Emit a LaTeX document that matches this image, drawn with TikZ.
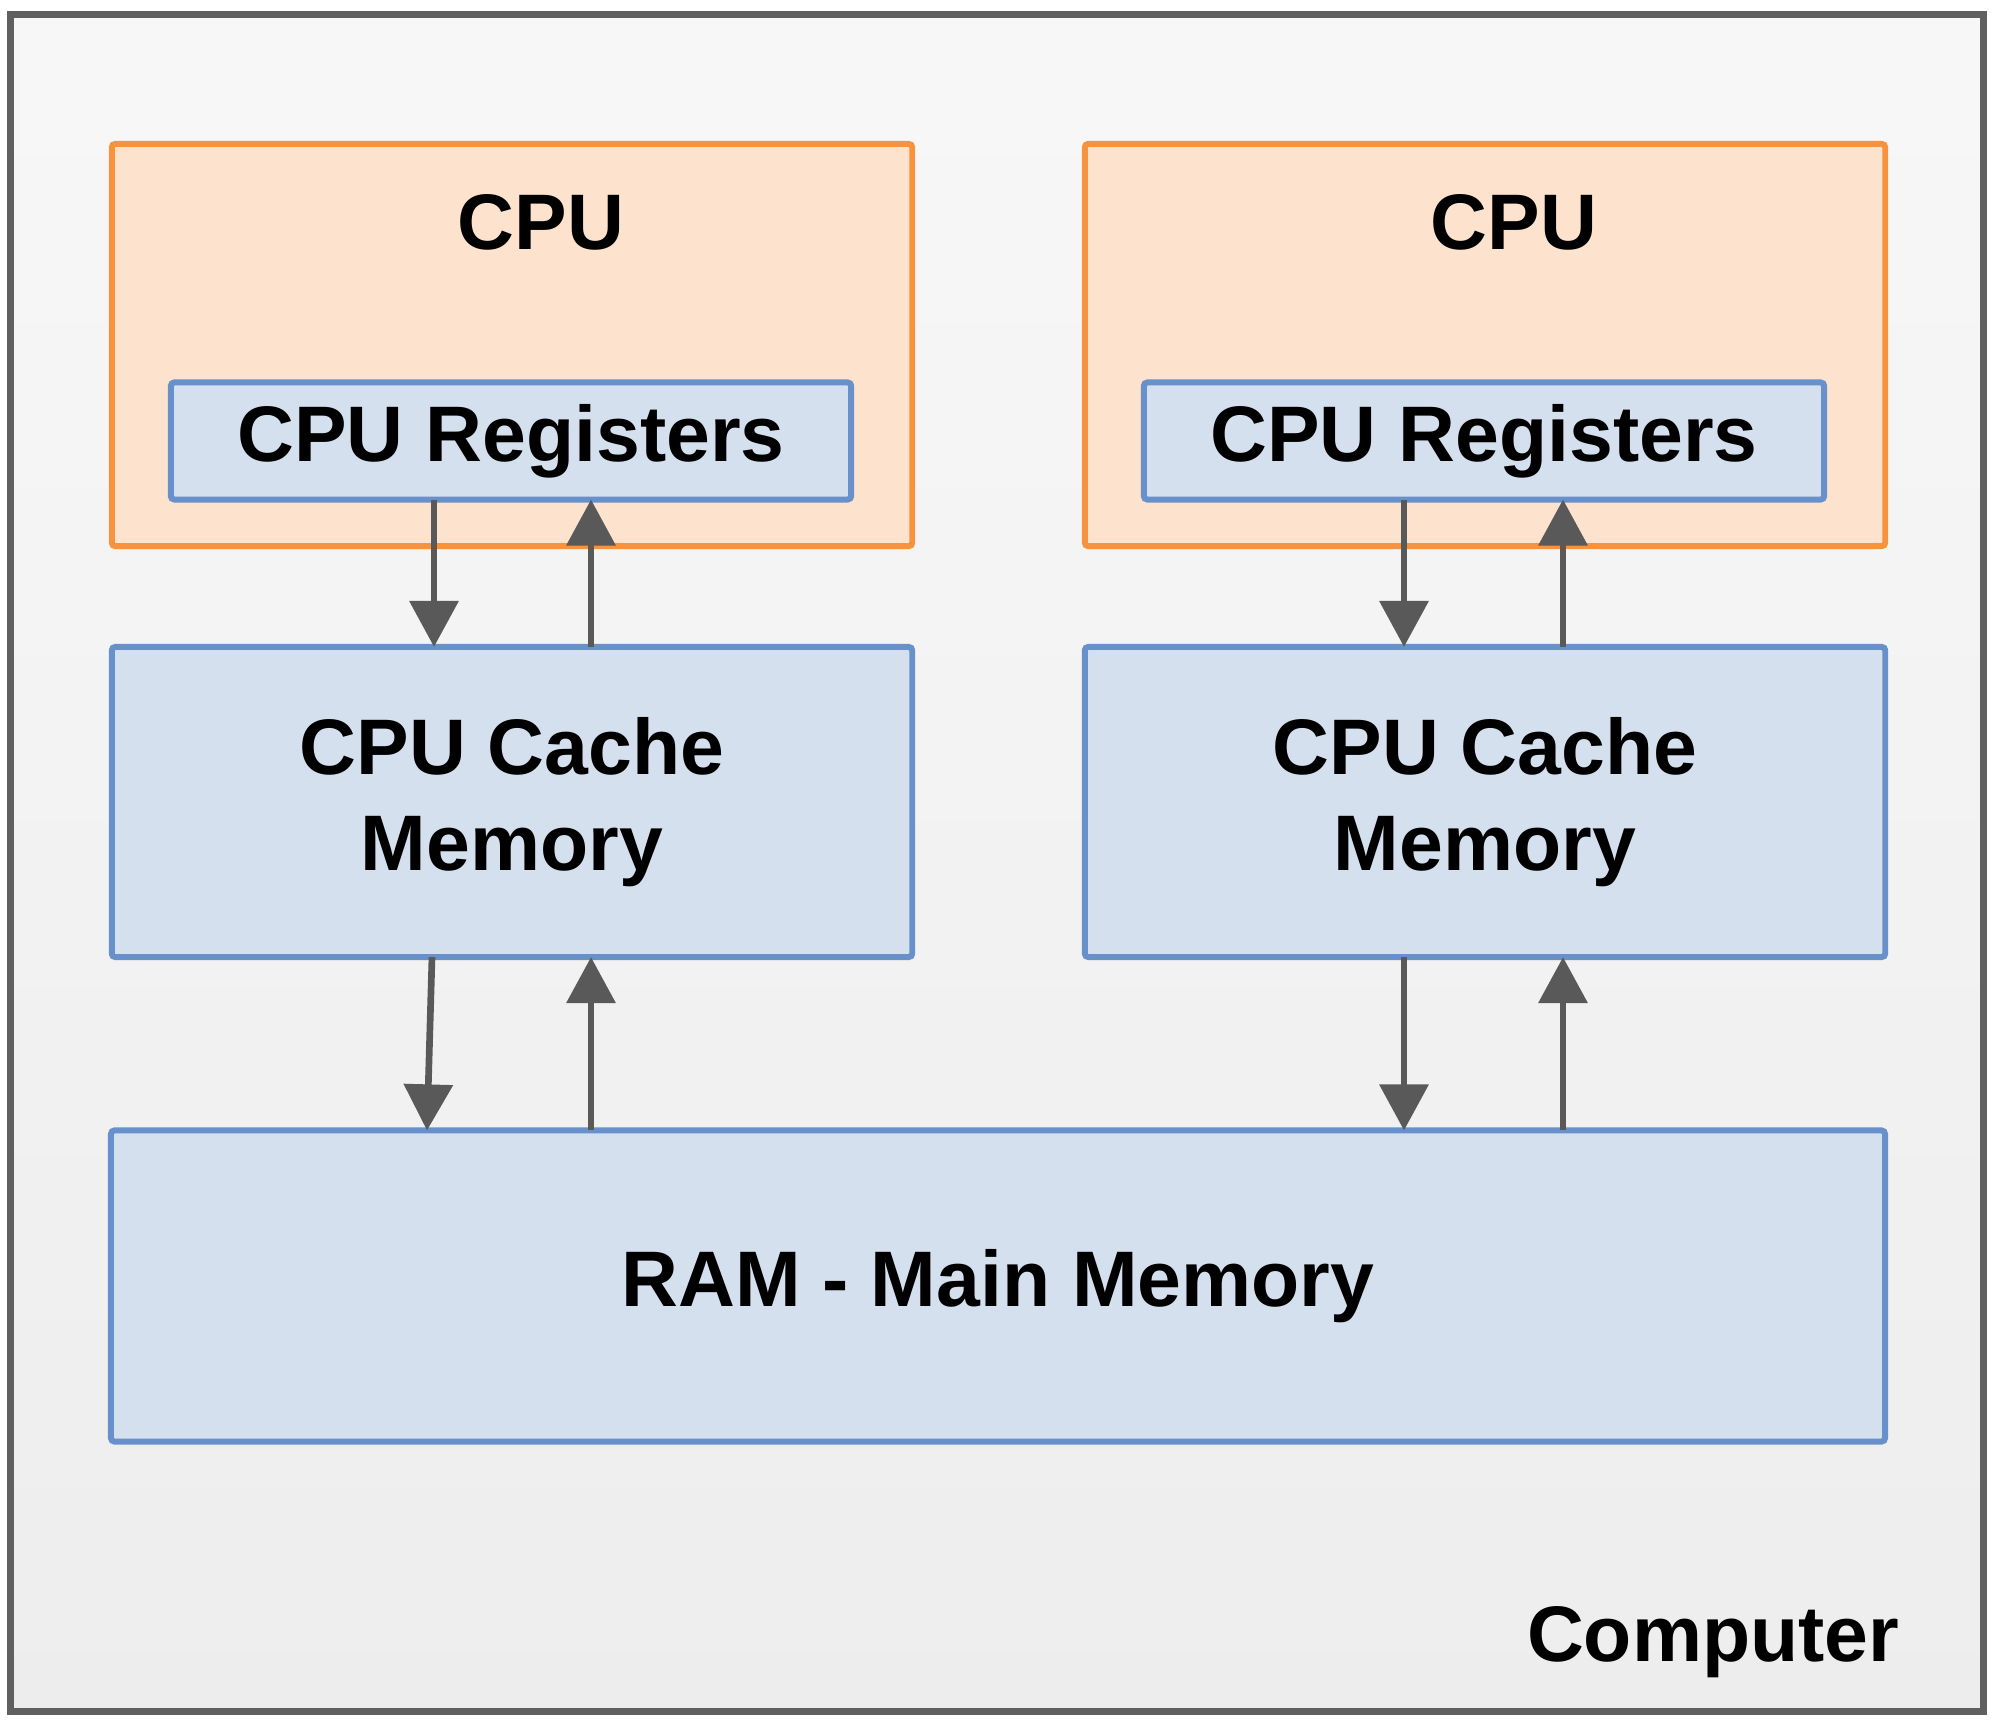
\documentclass[tikz,border=0pt]{standalone}
\usepackage{fontspec}
\setmainfont{Liberation Sans}
\usepackage{tikz}
\usetikzlibrary{%
  calc,%
  arrows.meta%
}
\definecolor{cpuline}{HTML}{F7923E}
\definecolor{cpufill}{HTML}{FDE3CE}
\definecolor{memline}{HTML}{6890CA}
\definecolor{memfill}{HTML}{D5E0EE}
\definecolor{wire}{HTML}{595959}
\definecolor{frameline}{HTML}{606060}

\begin{document}
\begin{tikzpicture}[x=0.01cm, y=-0.01cm,
  every node/.style={font=\bfseries\fontsize{22.4}{27.3}\selectfont, inner sep=0pt, outer sep=0pt},
  pcbox/.style={draw=frameline, line width=2pt, top color=white!97!black, bottom color=white!93!black, minimum width=19.72cm, minimum height=16.96cm},
  cpubox/.style={draw=cpuline, fill=cpufill, line width=1.7pt, rounded corners=1pt, minimum width=8cm, minimum height=4.02cm},
  membox/.style={draw=memline, fill=memfill, line width=1.7pt, rounded corners=1pt, align=center},
  link/.style={-{Triangle[width=0.48cm,length=0.46cm]}, draw=wire, line width=1.9pt}]
\useasboundingbox (0,0) rectangle (2000,1731);

\node[pcbox] (PC) at (997,863) {};
\node[anchor=base east] (PCt) at (1899,1661) {Computer};

\node[cpubox] (CPU1) at (512,345) {};
\node[cpubox] (CPU2) at (1485,345) {};
\node (CPUt1) at (541,222) {CPU};
\node (CPUt2) at (1514,222) {CPU};

\node[membox, minimum width=6.8cm, minimum height=1.17cm] (Reg1) at (511,441) {CPU Registers};
\node[membox, minimum width=6.8cm, minimum height=1.17cm] (Reg2) at (1484,441) {CPU Registers};

\node[membox, minimum width=8cm, minimum height=3.1cm] (Cache1) at (512,802) {CPU Cache\\Memory};
\node[membox, minimum width=8cm, minimum height=3.1cm] (Cache2) at (1485,802) {CPU Cache\\Memory};

\node[membox, minimum width=17.73cm, minimum height=3.11cm] (RAM) at (998,1286) {RAM - Main Memory};

\draw[link] ($(Reg1.south)+(-77,0)$) -- ($(Cache1.north)+(-78,0)$);
\draw[link] ($(Cache1.north)+(79,0)$) -- ($(Reg1.south)+(80,0)$);
\draw[link] ($(Reg2.south)+(-80,0)$) -- ($(Cache2.north)+(-81,0)$);
\draw[link] ($(Cache2.north)+(78,0)$) -- ($(Reg2.south)+(79,0)$);

\draw[link] ($(Cache1.south)+(-80,0)$) -- ($(RAM.north)+(-571,0)$);
\draw[link] ($(RAM.north)+(-407,0)$) -- ($(Cache1.south)+(79,0)$);
\draw[link] ($(Cache2.south)+(-81,0)$) -- ($(RAM.north)+(406,0)$);
\draw[link] ($(RAM.north)+(565,0)$) -- ($(Cache2.south)+(78,0)$);
\end{tikzpicture}
\end{document}
